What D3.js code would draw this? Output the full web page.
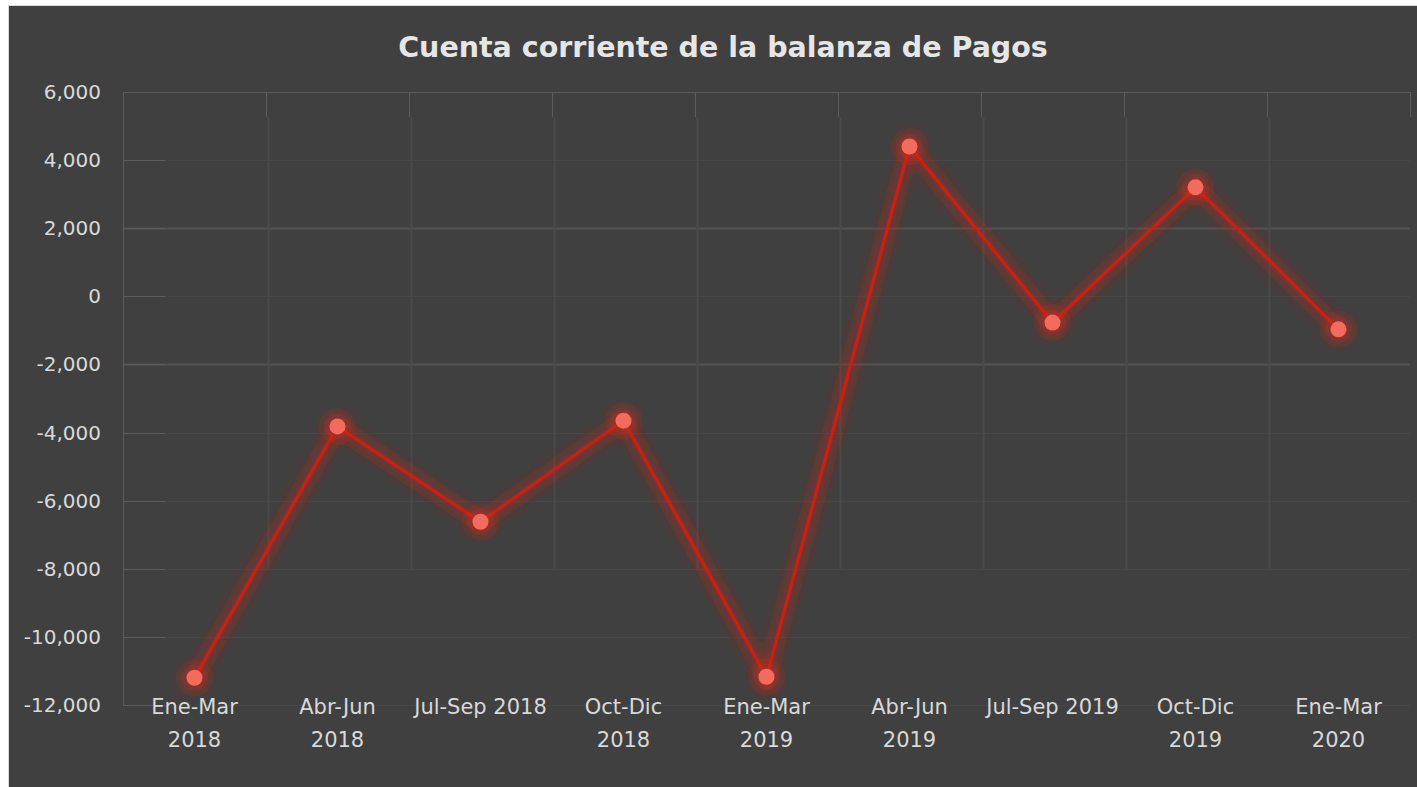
<!DOCTYPE html>
<html>
<head>
<meta charset="utf-8">
<script src="https://cdn.jsdelivr.net/npm/d3@7"></script>
<style>
  html, body { margin: 0; padding: 0; background: #ffffff; }
  #chart { width: 1417px; height: 787px; }
</style>
</head>
<body>
<div id="chart"></div>
<script>
// 데이터
const categories = [
  ["Ene-Mar", "2018"], ["Abr-Jun", "2018"], ["Jul-Sep 2018"], ["Oct-Dic", "2018"],
  ["Ene-Mar", "2019"], ["Abr-Jun", "2019"], ["Jul-Sep 2019"], ["Oct-Dic", "2019"],
  ["Ene-Mar", "2020"]
];
const values = [-11200, -3820, -6620, -3650, -11170, 4400, -770, 3200, -970];
const yTicks = [6000, 4000, 2000, 0, -2000, -4000, -6000, -8000, -10000, -12000];
const title = "Cuenta corriente de la balanza de Pagos";

const W = 1417, H = 787;
const M = { left: 123, right: 1410, top: 92, bottom: 705 };
const FONT = "'DejaVu Sans', sans-serif";

const svg = d3.select('#chart').append('svg')
  .attr('width', W).attr('height', H);

// 글로우 필터
const defs = svg.append('defs');
const glow = defs.append('filter').attr('id', 'glow')
  .attr('x', '-20%').attr('y', '-20%').attr('width', '140%').attr('height', '140%');
glow.append('feGaussianBlur').attr('in', 'SourceGraphic').attr('stdDeviation', 6);

// 배경
svg.append('rect')
  .attr('x', 8.5).attr('y', 5.5).attr('width', W - 8).attr('height', H - 5)
  .attr('fill', '#404040').attr('stroke', '#d9d9d9').attr('stroke-width', 1);

// 제목
svg.append('text')
  .attr('x', 723).attr('y', 57)
  .attr('text-anchor', 'middle')
  .attr('fill', '#e6e6e6')
  .attr('font-family', FONT)
  .attr('font-size', 28.5)
  .attr('font-weight', 700)
  .text(title);

// 스케일
const x = d3.scaleBand()
  .domain(d3.range(categories.length))
  .range([M.left, M.right]);
const y = d3.scaleLinear()
  .domain([-12000, 6000])
  .range([M.bottom, M.top]);

// 그리드
const grid = svg.append('g');
grid.selectAll('.hgrid')
  .data(yTicks)
  .join('line')
  .attr('x1', M.left).attr('x2', M.right)
  .attr('y1', d => Math.round(y(d)) + 0.5).attr('y2', d => Math.round(y(d)) + 0.5)
  .attr('stroke', d => d === 6000 ? '#5c5c5c' : ((d === 2000 || d === -2000) ? '#525252' : '#474747'))
  .attr('stroke-width', d => (d === 2000 || d === -2000) ? 2 : 1);

// 왼쪽 짧은 눈금
grid.selectAll('.ltick')
  .data(yTicks)
  .join('line')
  .attr('x1', M.left).attr('x2', M.left + 42)
  .attr('y1', d => Math.round(y(d)) + 0.5).attr('y2', d => Math.round(y(d)) + 0.5)
  .attr('stroke', '#5c5c5c');

const bounds = d3.range(categories.length + 1).map(i => M.left + i * x.step());
grid.selectAll('.vgrid')
  .data(bounds)
  .join('line')
  .attr('x1', d => Math.round(d) + 0.5).attr('x2', d => Math.round(d) + 0.5)
  .attr('y1', M.top).attr('y2', (d, i) => (i === 0 ? M.bottom : M.top + 25))
  .attr('stroke', '#5c5c5c');
grid.selectAll('.vgrid2')
  .data(bounds.slice(1, -1))
  .join('line')
  .attr('x1', d => Math.round(d) + 2.5).attr('x2', d => Math.round(d) + 2.5)
  .attr('y1', M.top + 25).attr('y2', y(-8000))
  .attr('stroke', '#4a4a4a').attr('stroke-width', 2);

// Y축 라벨
svg.append('g').selectAll('text')
  .data(yTicks)
  .join('text')
  .attr('x', 101)
  .attr('y', d => y(d))
  .attr('dy', '0.35em')
  .attr('text-anchor', 'end')
  .attr('fill', '#d9d9d9')
  .attr('font-family', FONT)
  .attr('font-size', 20)
  .text(d => d3.format(',')(d).replace('−', '-'));

// X축 라벨
const xl = svg.append('g').selectAll('text')
  .data(categories)
  .join('text')
  .attr('x', (d, i) => x(i) + x.bandwidth() / 2)
  .attr('y', 714)
  .attr('text-anchor', 'middle')
  .attr('fill', '#d9d9d9')
  .attr('font-family', FONT)
  .attr('font-size', 21);
xl.each(function(d) {
  const t = d3.select(this);
  d.forEach((line, j) => {
    t.append('tspan')
      .attr('x', t.attr('x'))
      .attr('dy', j === 0 ? 0 : 33)
      .text(line);
  });
});

// 선
const pts = values.map((v, i) => [x(i) + x.bandwidth() / 2, y(v)]);
const line = d3.line();
svg.append('path')
  .attr('d', line(pts))
  .attr('fill', 'none')
  .attr('stroke', '#c8200f')
  .attr('stroke-opacity', 0.45)
  .attr('stroke-width', 14)
  .attr('filter', 'url(#glow)');
svg.append('path')
  .attr('d', line(pts))
  .attr('fill', 'none')
  .attr('stroke', '#cc1f0d')
  .attr('stroke-width', 3)
  .attr('stroke-linejoin', 'round');

// 마커
svg.append('g').selectAll('circle.glow')
  .data(pts)
  .join('circle')
  .attr('cx', d => d[0]).attr('cy', d => d[1])
  .attr('r', 14)
  .attr('fill', '#d9261a')
  .attr('fill-opacity', 0.55)
  .attr('filter', 'url(#glow)');
svg.append('g').selectAll('circle.pt')
  .data(pts)
  .join('circle')
  .attr('cx', d => d[0]).attr('cy', d => d[1])
  .attr('r', 8)
  .attr('fill', '#f36b5c');
</script>
</body>
</html>
